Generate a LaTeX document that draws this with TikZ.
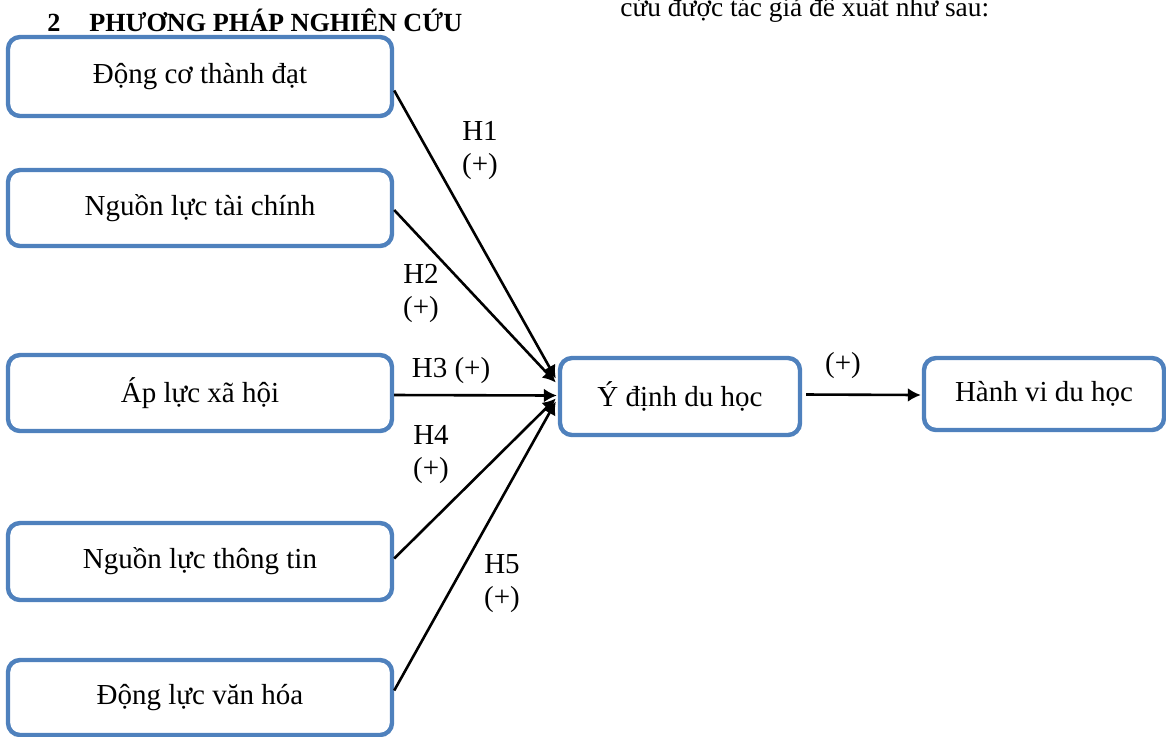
\documentclass[tikz,border=0pt]{standalone}
\usepackage{fontspec}
\setmainfont{Liberation Serif}
\usetikzlibrary{arrows.meta}
\definecolor{boxblue}{RGB}{79,129,189}
\begin{document}
\begin{tikzpicture}[x=0.5pt,y=-0.5pt,
  box/.style={draw=boxblue, line width=2.2pt, rounded corners=6pt, minimum width=192pt, inner sep=0pt, font=\fontsize{14.5}{17}\selectfont},
  arr/.style={line width=1.3pt, -{Latex[length=6.5pt,width=7pt]}},
  lab/.style={font=\fontsize{14.5}{16.5}\selectfont, align=center, inner sep=0pt}]
\useasboundingbox (0,0) rectangle (1166,736);
% header texts
\node[anchor=base west, inner sep=0pt, font=\fontsize{13.1}{15}\bfseries] (hdr) at (47,31) {2\hspace{1.1em}PHƯƠNG PHÁP NGHIÊN CỨU};
\node[anchor=base west, inner sep=0pt, font=\fontsize{13.7}{16}\selectfont] (top) at (620,16) {cứu được tác giả đề xuất như sau:};
% boxes
\node[box, minimum height=39.5pt] (b1) at (200,76.5) {\raisebox{2pt}{Động cơ thành đạt}};
\node[box, minimum height=38pt] (b2) at (200,208) {Nguồn lực tài chính};
\node[box, minimum height=38pt] (b3) at (200,393) {\raisebox{1.5pt}{Áp lực xã hội}};
\node[box, minimum height=38.5pt] (b4) at (200,561.5) {Nguồn lực thông tin};
\node[box, minimum height=37.5pt] (b5) at (200,697.5) {Động lực văn hóa};
\node[box, minimum width=120pt, minimum height=38.5pt] (yd) at (680,396.5) {Ý định du học};
\node[box, minimum width=120pt, minimum height=36pt] (hv) at (1044,394) {Hành vi du học};
% arrows
\draw[arr] ([yshift=-7pt]b1.east) -- ([xshift=-1pt,yshift=9pt]yd.west);
\draw[arr] ([yshift=-1pt]b2.east) -- ([xshift=-1pt,yshift=7pt]yd.west);
\draw[arr] ([yshift=-1pt]b3.east) -- ([xshift=-0.5pt,yshift=0.5pt]yd.west);
\draw[arr] ([yshift=1.5pt]b4.east) -- ([xshift=-1pt,yshift=-1pt]yd.west);
\draw[arr] ([yshift=3.5pt]b5.east) -- ([xshift=-1pt,yshift=-2.5pt]yd.west);
\draw[arr] ([xshift=2pt,yshift=1pt]yd.east) -- ([xshift=-0.5pt,yshift=-0.5pt]hv.west);
% labels
\node[lab] (l1) at (480,151) {H1\\(+)};
\node[lab] (l2) at (421,293) {H2\\(+)};
\node[lab] (l3) at (451,371) {H3 (+)};
\node[lab] (l4) at (431,455) {H4\\(+)};
\node[lab] (l5) at (502,584) {H5\\(+)};
\node[lab] (l6) at (843,366) {(+)};
\end{tikzpicture}
\end{document}
